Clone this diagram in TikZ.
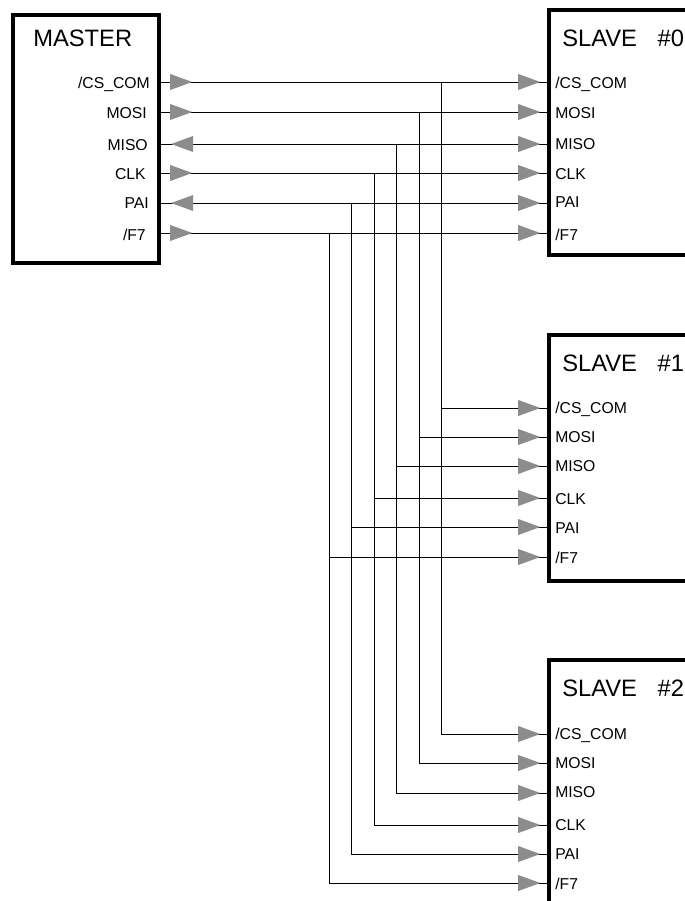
\documentclass[tikz,border=0pt]{standalone}
\usepackage{fontspec}
\setmainfont{Liberation Sans}
\usetikzlibrary{shapes.geometric}
\definecolor{pinfill}{RGB}{140,140,140}
\tikzset{
  chipbox/.style={draw, line width=3pt},
  wire/.style={line width=0.75pt},
  title/.style={anchor=base west, inner sep=0pt, font=\fontsize{17.8}{20}\selectfont},
  pinlabel/.style={inner sep=0pt, font=\fontsize{11.8}{14}\selectfont},
  buffer/.style={isosceles triangle, isosceles triangle apex angle=40, fill=pinfill, inner sep=0pt,
    isosceles triangle stretches, minimum height=16.5pt, minimum width=12pt, anchor=apex}
}
\begin{document}
\begin{tikzpicture}[x=0.75pt, y=-0.75pt]
  \clip (0,0) rectangle (685,901);
  % Boxes
  \draw[chipbox] (13,15) rectangle (159,263);
  \draw[chipbox] (549,10) rectangle (720,255);
  \draw[chipbox] (549,335) rectangle (720,581);
  \draw[chipbox] (549,660) rectangle (720,940);
  \node[title] (master) at (33,46) {MASTER};
  \node[title] (slave0) at (562,46) {SLAVE\hspace{15.5pt}\#0};
  \node[title] (slave1) at (562,371) {SLAVE\hspace{15.5pt}\#1};
  \node[title] (slave2) at (562,696) {SLAVE\hspace{15.5pt}\#2};
  % Pin points on the box edges
  \foreach \i/\ya/\yb/\yc/\bus in {0/82/408/734/441, 1/112/437/763/419, 2/144/466/793/396,
      3/173/498/825/374, 4/203/527/854/351, 5/233/557/883/329} {
    \coordinate (m\i) at (159,\ya);
    \coordinate (a\i) at (549,\ya);
    \coordinate (b\i) at (549,\yb);
    \coordinate (c\i) at (549,\yc);
    \coordinate (top\i) at (\bus,\ya);
    \coordinate (mid\i) at (\bus,\yb);
    \coordinate (low\i) at (\bus,\yc);
  }
  % Wires
  \foreach \i in {0,...,5} {
    \draw[wire] (m\i) -- (a\i);
    \draw[wire] (mid\i) -- (b\i);
    \draw[wire] (top\i) -- (low\i) -- (c\i);
  }
  % Buffers
  \foreach \i in {0,...,5} {
    \node[buffer] (ba\i) at ([xshift=-6pt]a\i) {};
    \node[buffer] (bb\i) at ([xshift=-6pt]b\i) {};
    \node[buffer] (bc\i) at ([xshift=-6pt]c\i) {};
  }
  \foreach \i in {0,1,3,5}
    \node[buffer] (bm\i) at ([xshift=25.5pt]m\i) {};
  \foreach \i in {2,4}
    \node[buffer, shape border rotate=180] (bm\i) at ([xshift=8.5pt]m\i) {};
  % Master labels
  \node[pinlabel, anchor=base east] (lm0) at (150,88) {/CS\_COM};
  \node[pinlabel, anchor=base east] (lm1) at (147,118) {MOSI};
  \node[pinlabel, anchor=base east] (lm2) at (148,150) {MISO};
  \node[pinlabel, anchor=base east] (lm3) at (146,179) {CLK};
  \node[pinlabel, anchor=base east] (lm4) at (149,208) {PAI};
  \node[pinlabel, anchor=base east] (lm5) at (146,240) {/F7};
  % Slave labels
  \foreach \s/\ya/\yb/\yc/\yd/\ye/\yf in {s0/88/118/149/179/207/240, s1/413/442/471/504/533/563, s2/739/768/797/830/859/889} {
    \node[pinlabel, anchor=base west] (\s l0) at (555,\ya) {/CS\_COM};
    \node[pinlabel, anchor=base west] (\s l1) at (555,\yb) {MOSI};
    \node[pinlabel, anchor=base west] (\s l2) at (555,\yc) {MISO};
    \node[pinlabel, anchor=base west] (\s l3) at (555,\yd) {CLK};
    \node[pinlabel, anchor=base west] (\s l4) at (555,\ye) {PAI};
    \node[pinlabel, anchor=base west] (\s l5) at (555,\yf) {/F7};
  }
\end{tikzpicture}
\end{document}
